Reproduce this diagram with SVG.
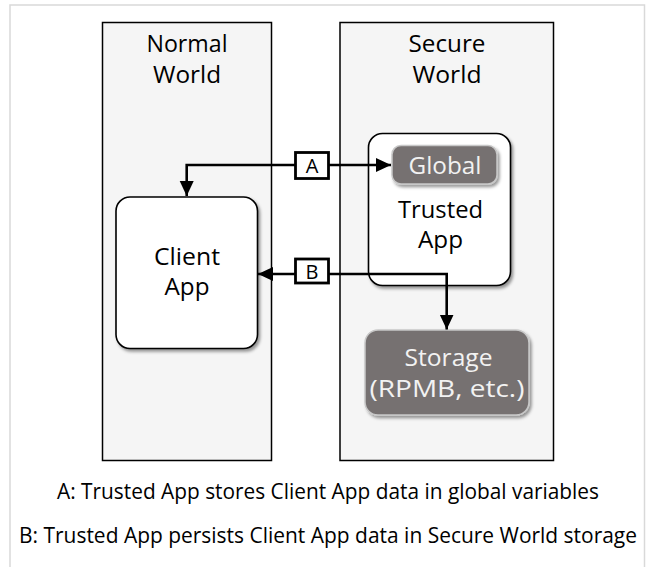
<svg xmlns="http://www.w3.org/2000/svg" width="647" height="567" viewBox="0 0 647 567">
<defs>
<style>
text{font-family:"Open Sans","Noto Sans","Liberation Sans",sans-serif;text-anchor:middle;fill:#000}
.world{fill:#f5f5f5;stroke:#000;stroke-width:1.5}
.app{fill:#fff;stroke:#000;stroke-width:1.6;filter:url(#sh)}
.dark{fill:#767171;stroke:#c8c8c8;stroke-width:1.5;filter:url(#sh)}
.dt{fill:#f2f2f2}
.t{font-size:23.5px}
.cap{font-size:21px}
.lab{fill:#fff;stroke:#000;stroke-width:2.8}
.conn{fill:none;stroke:#000;stroke-width:2.6}
</style>
<filter id="sh" x="-10%" y="-10%" width="130%" height="130%">
<feDropShadow dx="2" dy="2.5" stdDeviation="1.5" flood-color="#000" flood-opacity="0.4"/>
</filter>
<marker id="ah" markerUnits="userSpaceOnUse" markerWidth="16" markerHeight="16" viewBox="0 0 16 16" refX="15" refY="8" orient="auto">
<path d="M0,1 L15,8 L0,15 z" fill="#000"/>
</marker>
</defs>
<rect x="10" y="5" width="634.5" height="620" fill="#fff" stroke="#d9d9d9" stroke-width="1.5"/>
<g id="normal-world">
<rect class="world" x="102.5" y="22.5" width="169" height="438"/>
<text class="t" x="187" y="51.7" textLength="81" lengthAdjust="spacingAndGlyphs">Normal</text>
<text class="t" x="187" y="83.3" textLength="68" lengthAdjust="spacingAndGlyphs">World</text>
</g>
<g id="secure-world">
<rect class="world" x="340" y="22.5" width="213.5" height="438"/>
<text class="t" x="447" y="51.7" textLength="77" lengthAdjust="spacingAndGlyphs">Secure</text>
<text class="t" x="447" y="83.3" textLength="69" lengthAdjust="spacingAndGlyphs">World</text>
</g>
<g id="client-app">
<rect class="app" x="116" y="197" width="141.5" height="151.5" rx="14"/>
<text class="t" x="187" y="265" textLength="66" lengthAdjust="spacingAndGlyphs">Client</text>
<text class="t" x="187" y="295" textLength="45" lengthAdjust="spacingAndGlyphs">App</text>
</g>
<g id="trusted-app">
<rect class="app" x="368.5" y="133.5" width="142" height="152" rx="14"/>
<text class="t" x="440.5" y="218.3" textLength="85" lengthAdjust="spacingAndGlyphs">Trusted</text>
<text class="t" x="440.5" y="248.3" textLength="45" lengthAdjust="spacingAndGlyphs">App</text>
</g>
<g id="global">
<rect class="dark" x="392" y="145.5" width="105" height="38.5" rx="9"/>
<text class="t dt" x="445" y="174.3" textLength="73" lengthAdjust="spacingAndGlyphs">Global</text>
</g>
<g id="storage">
<rect class="dark" x="365" y="330" width="164" height="85" rx="13"/>
<text class="t dt" x="448.5" y="365.7" textLength="88" lengthAdjust="spacingAndGlyphs">Storage</text>
<text class="t dt" x="447" y="396.7" textLength="155" lengthAdjust="spacingAndGlyphs">(RPMB, etc.)</text>
</g>
<g id="connectors">
<path class="conn" d="M295,165 H186.7 V196" marker-end="url(#ah)"/>
<path class="conn" d="M328.5,165 H391" marker-end="url(#ah)"/>
<path class="conn" d="M295,274 H258" marker-end="url(#ah)"/>
<path class="conn" d="M328.5,274 H446.7 V329.5" marker-end="url(#ah)"/>
<g id="label-a">
<rect class="lab" x="295.5" y="152.5" width="33" height="26"/>
<text x="312" y="173" style="font-size:20px">A</text>
</g>
<g id="label-b">
<rect class="lab" x="295.5" y="259" width="33" height="24"/>
<text x="312" y="278.5" style="font-size:20px">B</text>
</g>
</g>
<g id="captions">
<text class="cap" x="328" y="499.3" textLength="542" lengthAdjust="spacingAndGlyphs">A: Trusted App stores Client App data in global variables</text>
<text class="cap" x="328" y="542.7" textLength="618" lengthAdjust="spacingAndGlyphs">B: Trusted App persists Client App data in Secure World storage</text>
</g>
</svg>
